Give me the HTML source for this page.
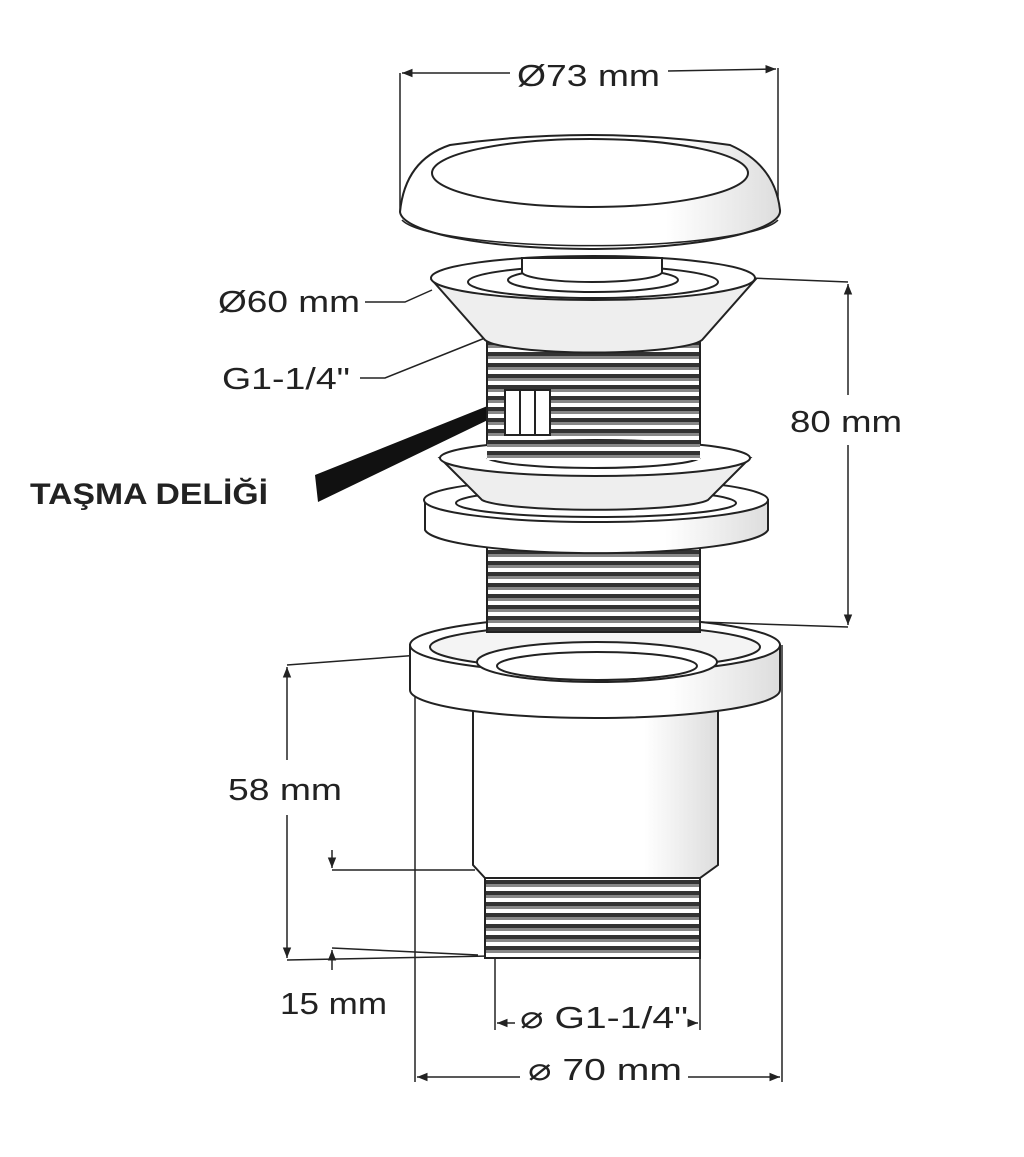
<!DOCTYPE html>
<html><head><style>
html,body{margin:0;padding:0;background:#fff;}
svg{display:block;}
text{font-family:"Liberation Sans",sans-serif;fill:#222;}
</style></head><body>
<svg width="1024" height="1157" viewBox="0 0 1024 1157" xmlns="http://www.w3.org/2000/svg">
<defs>
<pattern id="thr" x="0" y="0" width="10" height="11" patternUnits="userSpaceOnUse">
<rect width="10" height="11" fill="#fff"/>
<rect y="0" width="10" height="4" fill="#333"/>
<rect y="4" width="10" height="3" fill="#888"/>
</pattern>
<linearGradient id="sh" x1="0" x2="1">
<stop offset="0" stop-color="#fff"/><stop offset="0.7" stop-color="#fff"/><stop offset="1" stop-color="#ddd"/>
</linearGradient>
<marker id="ar" viewBox="0 0 10 10" refX="10" refY="5" markerWidth="7" markerHeight="7" orient="auto-start-reverse"><path d="M0,1 L10,5 L0,9 z" fill="#222"/></marker>
</defs>
<g stroke="#222" stroke-width="1.5" fill="none">
<line x1="400" y1="73" x2="400" y2="212"/><line x1="778" y1="68" x2="778" y2="210"/>
<line x1="402" y1="73" x2="510" y2="73" marker-start="url(#ar)"/>
<line x1="668" y1="71" x2="776" y2="69" marker-end="url(#ar)"/>
<line x1="700" y1="276" x2="848" y2="282"/><line x1="700" y1="622" x2="848" y2="627"/>
<line x1="848" y1="284" x2="848" y2="395" marker-start="url(#ar)"/>
<line x1="848" y1="445" x2="848" y2="625" marker-end="url(#ar)"/>
<line x1="287" y1="665" x2="420" y2="655"/><line x1="287" y1="960" x2="490" y2="956"/>
<line x1="287" y1="667" x2="287" y2="760" marker-start="url(#ar)"/>
<line x1="287" y1="815" x2="287" y2="958" marker-end="url(#ar)"/>
<line x1="332" y1="870" x2="475" y2="870"/><line x1="332" y1="948" x2="478" y2="955"/>
<line x1="332" y1="850" x2="332" y2="868" marker-end="url(#ar)"/>
<line x1="332" y1="970" x2="332" y2="950" marker-end="url(#ar)"/>
<line x1="495" y1="955" x2="495" y2="1030"/><line x1="700" y1="955" x2="700" y2="1030"/>
<line x1="497" y1="1023" x2="515" y2="1023" marker-start="url(#ar)"/>
<line x1="688" y1="1023" x2="698" y2="1023" marker-end="url(#ar)"/>
<line x1="415" y1="650" x2="415" y2="1082"/><line x1="782" y1="645" x2="782" y2="1082"/>
<line x1="417" y1="1077" x2="520" y2="1077" marker-start="url(#ar)"/>
<line x1="688" y1="1077" x2="780" y2="1077" marker-end="url(#ar)"/>
<polyline points="365,302 405,302 432,290"/>
<polyline points="360,378 385,378 485,338"/>
</g>
<polygon points="315,475 490,405 492,418 318,502" fill="#111"/>

<g stroke="#222" stroke-width="2">
<rect x="485" y="872" width="215" height="86" fill="url(#thr)"/>
<path d="M473,700 L473,865 L485,878 L700,878 L718,865 L718,700 Z" fill="url(#sh)"/>
<path d="M410,645 L410,690 A185,28 0 0 0 780,690 L780,645 Z" fill="url(#sh)"/>
<ellipse cx="595" cy="645" rx="185" ry="28" fill="#fff"/>
<ellipse cx="595" cy="647" rx="165" ry="22" fill="#f4f4f4"/>
<ellipse cx="597" cy="662" rx="120" ry="20" fill="#fff"/>
<ellipse cx="597" cy="666" rx="100" ry="14" fill="#fff"/>
<rect x="487" y="340" width="213" height="292" fill="url(#thr)"/>
<path d="M425,500 L425,530 A172,25 0 0 0 768,530 L768,500 Z" fill="url(#sh)"/>
<ellipse cx="596" cy="500" rx="172" ry="22" fill="#fff"/>
<ellipse cx="596" cy="503" rx="140" ry="14" fill="#fff"/>
<path d="M440,458 L482,500 A115,12 0 0 0 708,500 L750,458 Z" fill="#eee"/>
<ellipse cx="595" cy="458" rx="155" ry="18" fill="#fff"/>
<path d="M487,458 A108,12 0 0 0 700,458" fill="#fff"/>
<rect x="487" y="440" width="213" height="20" fill="url(#thr)" stroke="none"/>
<rect x="505" y="390" width="45" height="45" fill="#fff"/>
<line x1="520" y1="390" x2="520" y2="435"/><line x1="535" y1="390" x2="535" y2="435"/>
<path d="M432,280 L485,340 A110,15 0 0 0 702,340 L755,280 Z" fill="#eee"/>
<ellipse cx="593" cy="278" rx="162" ry="22" fill="#fff"/>
<ellipse cx="593" cy="282" rx="125" ry="16" fill="#fff"/>
<ellipse cx="593" cy="280" rx="85" ry="12" fill="#fff"/>
<path d="M522,258 L522,272 A70,10 0 0 0 662,272 L662,258 Z" fill="#fff"/>
<path d="M400,212 Q405,160 450,145 Q590,125 730,145 Q775,165 780,210 A190,38 0 0 1 400,212 Z" fill="url(#sh)"/>
<ellipse cx="590" cy="173" rx="158" ry="34" fill="#fff"/>
<path d="M402,220 A190,30 0 0 0 778,220" fill="none" stroke-width="1.5"/>
</g>

<text x="517" y="86" font-size="31" textLength="143" lengthAdjust="spacingAndGlyphs">Ø73 mm</text>
<text x="218" y="312" font-size="31" textLength="142" lengthAdjust="spacingAndGlyphs">Ø60 mm</text>
<text x="222" y="389" font-size="31" textLength="128" lengthAdjust="spacingAndGlyphs">G1-1/4"</text>
<text x="30" y="504" font-size="30" font-weight="bold" textLength="238" lengthAdjust="spacingAndGlyphs">TAŞMA DELİĞİ</text>
<text x="790" y="432" font-size="31" textLength="112" lengthAdjust="spacingAndGlyphs">80 mm</text>
<text x="228" y="800" font-size="31" textLength="114" lengthAdjust="spacingAndGlyphs">58 mm</text>
<text x="280" y="1014" font-size="31" textLength="107" lengthAdjust="spacingAndGlyphs">15 mm</text>
<text x="520" y="1028" font-size="31" textLength="168" lengthAdjust="spacingAndGlyphs">⌀ G1-1/4"</text>
<text x="528" y="1080" font-size="31" textLength="154" lengthAdjust="spacingAndGlyphs">⌀ 70 mm</text>
</svg>
</body></html>
